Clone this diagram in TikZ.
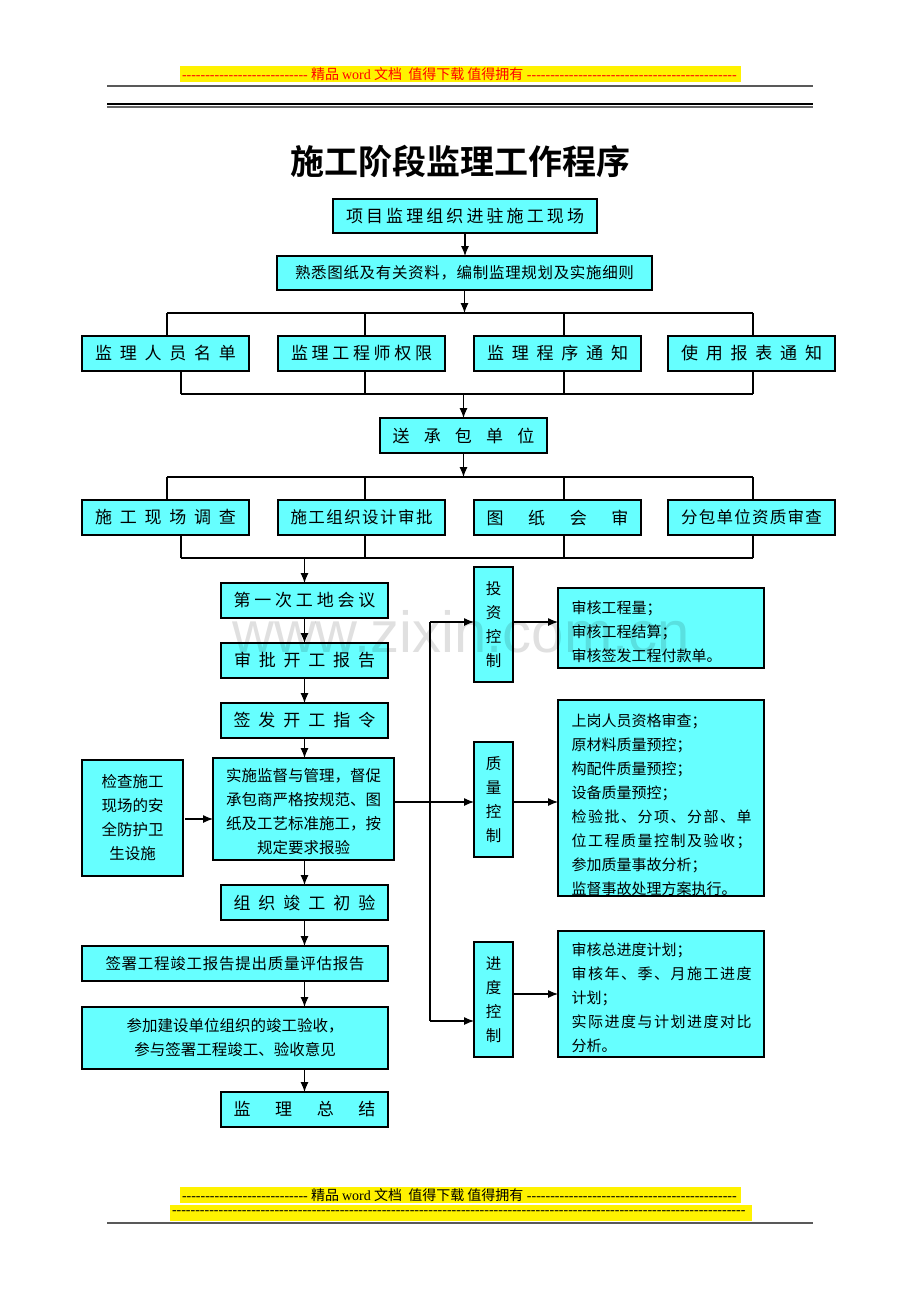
\documentclass[tikz,border=0pt]{standalone}
\usepackage{fontspec}
\setmainfont{Noto Sans CJK SC}[BoldFont={Noto Sans CJK SC Bold}]
\newfontfamily\lserif{Liberation Serif}
\newfontfamily\lsans{Liberation Sans}
\usetikzlibrary{arrows.meta,calc}
\definecolor{boxcyan}{RGB}{102,255,255}
\newcommand\fsz[1]{\fontsize{#1}{#1}\selectfont}
\makeatletter
\def\spr@aux#1#2{#1\ifx\relax#2\else\hfil\expandafter\spr@aux\expandafter#2\fi}
\newcommand\spread[2]{\leavevmode\hbox to #1{\spr@aux#2\relax}}
\makeatother
\tikzset{
  box/.style={draw=black, line width=1.2pt, fill=boxcyan, inner sep=0pt, outer sep=0pt},
  ln/.style={line width=1.1pt, draw=black},
  arr/.style={ln, -{Latex[length=10pt,width=8pt]}},
  band/.style={fill=yellow, inner sep=0pt, outer sep=0pt},
  ml/.style={font={\fontsize{15.5}{24}\selectfont}},
  mr/.style={font={\fontsize{15}{24}\selectfont}},
  rtext/.style={mr, anchor=north west, inner sep=0pt, align=left},
}
\begin{document}
\begin{tikzpicture}[x=1pt,y=-1pt]
\useasboundingbox (0,0) rectangle (920,1302);
\fill[white] (0,0) rectangle (920,1302);

% header
\node[band, minimum width=561pt, minimum height=16pt, text=red] (hd) at (460.5,74)
  {\fsz{14}\hbox to 557pt{{\lserif\leaders\hbox{-}\hskip129pt}精品 {\lserif word} 文档\ \ 值得下载\ 值得拥有{\lserif\leaders\hbox{-}\hfill}}};
\draw[line width=2pt, black!65] (107,86) -- (813,86);
\draw[line width=1.6pt, black] (107,104.2) -- (813,104.2);
\draw[line width=1.6pt, black!60] (107,106.8) -- (813,106.8);

% title
\node (title) at (460,161) {\fsz{34}\bfseries 施工阶段监理工作程序};

% top boxes
\node[box, minimum width=264pt, minimum height=34pt] (b1) at (465,216) {\fsz{17}\spread{238pt}{项目监理组织进驻施工现场}};
\node[box, minimum width=375pt, minimum height=34pt] (b2) at (464.5,273) {\fsz{15.5}\spread{339pt}{熟悉图纸及有关资料，编制监理规划及实施细则}};

% row 1
\node[box, minimum width=167pt, minimum height=35pt] (rA) at (165.5,353.5) {\fsz{17}\spread{141pt}{监理人员名单}};
\node[box, minimum width=167pt, minimum height=35pt] (rB) at (361.5,353.5) {\fsz{17}\spread{141pt}{监理工程师权限}};
\node[box, minimum width=167pt, minimum height=35pt] (rC) at (557.5,353.5) {\fsz{17}\spread{141pt}{监理程序通知}};
\node[box, minimum width=167pt, minimum height=35pt] (rD) at (751.5,353.5) {\fsz{17}\spread{141pt}{使用报表通知}};

\node[box, minimum width=167pt, minimum height=35pt] (b3) at (463.5,435.5) {\fsz{17}\spread{142pt}{送承包单位}};

% row 2
\node[box, minimum width=167pt, minimum height=35pt] (sA) at (165.5,517.5) {\fsz{17}\spread{141pt}{施工现场调查}};
\node[box, minimum width=167pt, minimum height=35pt] (sB) at (361.5,517.5) {\fsz{16.5}\spread{142pt}{施工组织设计审批}};
\node[box, minimum width=167pt, minimum height=35pt] (sC) at (557.5,517.5) {\fsz{17}\spread{142pt}{图纸会审}};
\node[box, minimum width=167pt, minimum height=35pt] (sD) at (751.5,517.5) {\fsz{16.5}\spread{141pt}{分包单位资质审查}};

% left column
\node[box, minimum width=167pt, minimum height=35pt] (L1) at (304.5,600.5) {\fsz{17}\spread{142pt}{第一次工地会议}};
\node[box, minimum width=167pt, minimum height=35pt] (L2) at (304.5,660.5) {\fsz{17}\spread{141pt}{审批开工报告}};
\node[box, minimum width=167pt, minimum height=35pt] (L3) at (304.5,720.5) {\fsz{17}\spread{142pt}{签发开工指令}};
\node[box, minimum width=181pt, minimum height=102pt] (L4) at (303.5,809) {};
\node[ml, anchor=north, inner sep=0pt, align=center] (L4t) at ($(L4.north)+(0,10)$)
  {实施监督与管理，督促\\承包商严格按规范、图\\纸及工艺标准施工，按\\规定要求报验};
\node[box, minimum width=167pt, minimum height=35pt] (L5) at (304.5,902.5) {\fsz{17}\spread{142pt}{组织竣工初验}};
\node[box, minimum width=306pt, minimum height=35pt] (L6) at (235,963.5) {\fsz{15.5}\spread{259pt}{签署工程竣工报告提出质量评估报告}};
\node[box, ml, minimum width=306pt, minimum height=62pt, align=center] (L7) at (235,1038)
  {参加建设单位组织的竣工验收，\\参与签署工程竣工、验收意见};
\node[box, minimum width=167pt, minimum height=35pt] (L8) at (304.5,1109.5) {\fsz{17}\spread{142pt}{监理总结}};

\node[box, ml, minimum width=101pt, minimum height=116pt, align=center] (S) at (132.5,818)
  {检查施工\\现场的安\\全防护卫\\生设施};

% control boxes
\node[box, ml, minimum width=39pt, minimum height=115pt, align=center] (T) at (493.5,624.5) {投\\资\\控\\制};
\node[box, ml, minimum width=39pt, minimum height=115pt, align=center] (Q) at (493.5,799.5) {质\\量\\控\\制};
\node[box, ml, minimum width=39pt, minimum height=115pt, align=center] (P) at (493.5,999.5) {进\\度\\控\\制};

% right text boxes
\node[box, minimum width=206pt, minimum height=80pt] (RT) at (661,628) {};
\node[rtext] (RTt) at ($(RT.north west)+(13.5,13)$)
  {审核工程量；\\审核工程结算；\\审核签发工程付款单。};
\node[box, minimum width=206pt, minimum height=196pt] (RQ) at (661,798) {};
\begin{scope}
  \clip (RQ.north west) rectangle (RQ.south east);
  \node[rtext] (RQt) at ($(RQ.north west)+(13.5,13.5)$)
    {上岗人员资格审查；\\原材料质量预控；\\构配件质量预控；\\设备质量预控；\\\spread{180pt}{检验批、分项、分部、单}\\\spread{180pt}{位工程质量控制及验收；}\\参加质量事故分析；\\监督事故处理方案执行。};
\end{scope}
\draw[line width=1.2pt] (RQ.north west) rectangle (RQ.south east);
\node[box, minimum width=206pt, minimum height=126pt] (RP) at (661,994) {};
\node[rtext] (RPt) at ($(RP.north west)+(13.5,12)$)
  {审核总进度计划；\\\spread{180pt}{审核年、季、月施工进度}\\计划；\\\spread{180pt}{实际进度与计划进度对比}\\分析。};

% connectors top
\draw[arr] (b1.south) -- (b1.south |- b2.north);
\coordinate (u1A) at (167,313); \coordinate (u1B) at (365,313);
\coordinate (u1C) at (564,313); \coordinate (u1D) at (753,313);
\draw[arr] (b2.south) -- (b2.south |- u1A);
\draw[ln] (u1A) -- (u1D);
\draw[ln] (u1A) -- (u1A |- rA.north);
\draw[ln] (u1B) -- (u1B |- rB.north);
\draw[ln] (u1C) -- (u1C |- rC.north);
\draw[ln] (u1D) -- (u1D |- rD.north);
\coordinate (d1A) at (181,394); \coordinate (d1B) at (365,394);
\coordinate (d1C) at (564,394); \coordinate (d1D) at (753,394);
\draw[ln] (d1A |- rA.south) -- (d1A);
\draw[ln] (d1B |- rB.south) -- (d1B);
\draw[ln] (d1C |- rC.south) -- (d1C);
\draw[ln] (d1D |- rD.south) -- (d1D);
\draw[ln] (d1A) -- (d1D);
\draw[arr] (b3.north |- d1A) -- (b3.north);

\coordinate (u2A) at (167,477); \coordinate (u2B) at (365,477);
\coordinate (u2C) at (564,477); \coordinate (u2D) at (753,477);
\draw[arr] (b3.south) -- (b3.south |- u2A);
\draw[ln] (u2A) -- (u2D);
\draw[ln] (u2A) -- (u2A |- sA.north);
\draw[ln] (u2B) -- (u2B |- sB.north);
\draw[ln] (u2C) -- (u2C |- sC.north);
\draw[ln] (u2D) -- (u2D |- sD.north);
\coordinate (d2A) at (181,558); \coordinate (d2B) at (365,558);
\coordinate (d2C) at (564,558); \coordinate (d2D) at (753,558);
\draw[ln] (d2A |- sA.south) -- (d2A);
\draw[ln] (d2B |- sB.south) -- (d2B);
\draw[ln] (d2C |- sC.south) -- (d2C);
\draw[ln] (d2D |- sD.south) -- (d2D);
\draw[ln] (d2A) -- (d2D);
\draw[arr] (L1.north |- d2A) -- (L1.north);

% left column arrows
\draw[arr] (L1.south) -- (L2.north);
\draw[arr] (L2.south) -- (L3.north);
\draw[arr] (L3.south) -- (L3.south |- L4.north);
\draw[arr] (L3.south |- L4.south) -- (L5.north);
\draw[arr] (L5.south) -- (L5.south |- L6.north);
\draw[arr] (L5.south |- L6.south) -- (L5.south |- L7.north);
\draw[arr] (L8.north |- L7.south) -- (L8.north);
\coordinate (sa) at (185,819);
\draw[arr] (sa) -- (sa -| L4.west);

% control connectors
\coordinate (qy) at (430,802);
\draw[arr] (qy -| L4.east) -- (qy -| Q.west);
\coordinate (cT) at (430,622);
\coordinate (cB) at (430,1021);
\draw[ln] (cT) -- (cB);
\draw[arr] (cT) -- (cT -| T.west);
\draw[arr] (cB) -- (cB -| P.west);
\draw[arr] (cT -| T.east) -- (cT -| RT.west);
\draw[arr] (qy -| Q.east) -- (qy -| RQ.west);
\coordinate (py) at (430,994);
\draw[arr] (py -| P.east) -- (py -| RP.west);

% watermark
\node[anchor=base west, inner sep=0pt, text=black, opacity=0.12] (wm) at (232,652) {\lsans\fsz{58}www.zixin.com.cn};

% footer
\node[band, minimum width=561pt, minimum height=16pt, text=black] (ft1) at (460.5,1195)
  {\fsz{14}\hbox to 557pt{{\lserif\leaders\hbox{-}\hskip129pt}精品 {\lserif word} 文档\ \ 值得下载\ 值得拥有{\lserif\leaders\hbox{-}\hfill}}};
\node[band, minimum width=582pt, minimum height=16pt, text=black] (ft2) at (461,1213)
  {\fsz{14}\hbox to 578pt{\lserif\leaders\hbox{-}\hfill}};
\draw[line width=2pt, black!65] (107,1223) -- (813,1223);
\end{tikzpicture}
\end{document}
